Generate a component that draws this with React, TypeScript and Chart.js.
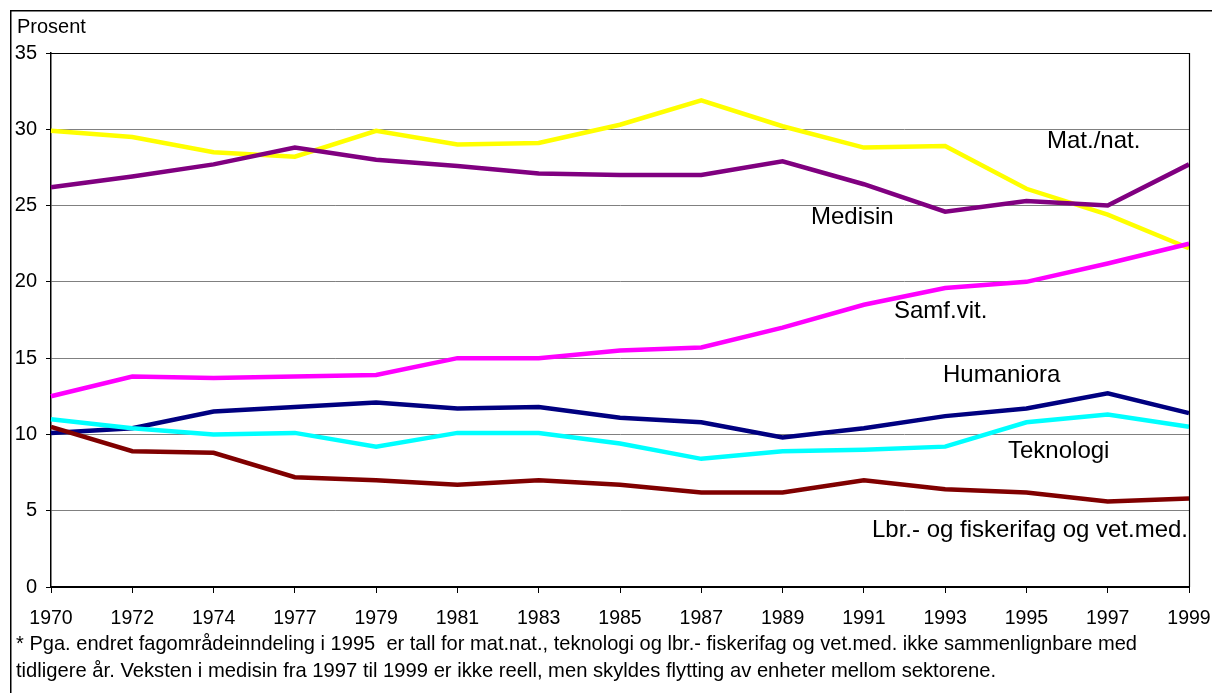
import React, { useEffect, useRef } from "react";
import { Chart, registerables } from "chart.js";

Chart.register(...registerables);

const years = ["1970", "1972", "1974", "1977", "1979", "1981", "1983", "1985", "1987", "1989", "1991", "1993", "1995", "1997", "1999"];
const matNat = [29.9, 29.5, 28.5, 28.2, 29.9, 29.0, 29.1, 30.3, 31.9, 30.2, 28.8, 28.9, 26.1, 24.4, 22.2];
const medisin = [26.2, 26.9, 27.7, 28.8, 28.0, 27.6, 27.1, 27.0, 27.0, 27.9, 26.4, 24.6, 25.3, 25.0, 27.7];
const samfVit = [12.5, 13.8, 13.7, 13.8, 13.9, 15.0, 15.0, 15.5, 15.7, 17.0, 18.5, 19.6, 20.0, 21.2, 22.5];
const humaniora = [10.1, 10.4, 11.5, 11.8, 12.1, 11.7, 11.8, 11.1, 10.8, 9.8, 10.4, 11.2, 11.7, 12.7, 11.4];
const teknologi = [11.0, 10.4, 10.0, 10.1, 9.2, 10.1, 10.1, 9.4, 8.4, 8.9, 9.0, 9.2, 10.8, 11.3, 10.5];
const lbr = [10.5, 8.9, 8.8, 7.2, 7.0, 6.7, 7.0, 6.7, 6.2, 6.2, 7.0, 6.4, 6.2, 5.6, 5.8];

const seriesNames = ["Mat./nat.", "Medisin", "Samf.vit.", "Humaniora", "Teknologi", "Lbr.- og fiskerifag og vet.med."];
const seriesColors = ["#FFFF00", "#800080", "#FF00FF", "#000080", "#00FFFF", "#800000"];
const seriesData = [matNat, medisin, samfVit, humaniora, teknologi, lbr];

const yAxisTitle = "Prosent";
const footnoteLines = [
  "* Pga. endret fagområdeinndeling i 1995  er tall for mat.nat., teknologi og lbr.- fiskerifag og vet.med. ikke sammenlignbare med",
  "tidligere år. Veksten i medisin fra 1997 til 1999 er ikke reell, men skyldes flytting av enheter mellom sektorene.",
];

const FONT = '"Liberation Sans", Arial, sans-serif';

// label anchor positions (left x, baseline y) for series names
const labelPos: [number, number][] = [
  [1047, 148],
  [811, 224],
  [894, 318],
  [943, 382],
  [1008, 458],
  [872, 537],
];

const decorPlugin = {
  id: "decor",
  afterDraw(chart: any) {
    const ctx = chart.ctx;
    const ca = chart.chartArea;
    ctx.save();
    // outer frame
    ctx.strokeStyle = "#000";
    ctx.lineWidth = 1.5;
    ctx.beginPath();
    ctx.moveTo(10.75, 693);
    ctx.lineTo(10.75, 10.75);
    ctx.lineTo(1212, 10.75);
    ctx.stroke();
    // plot top & right border
    ctx.lineWidth = 1.2;
    ctx.beginPath();
    ctx.moveTo(ca.left, ca.top + 0.5);
    ctx.lineTo(ca.right + 0.5, ca.top + 0.5);
    ctx.lineTo(ca.right + 0.5, ca.bottom);
    ctx.stroke();
    // axis title
    ctx.fillStyle = "#000";
    ctx.textAlign = "left";
    ctx.textBaseline = "alphabetic";
    ctx.font = `20px ${FONT}`;
    ctx.fillText(yAxisTitle, 17, 33);
    // series labels
    ctx.font = `24px ${FONT}`;
    seriesNames.forEach((n, i) => {
      if (i === 5) ctx.fillText(n, labelPos[i][0], labelPos[i][1], 316);
      else ctx.fillText(n, labelPos[i][0], labelPos[i][1]);
    });
    // footnote
    ctx.font = `20.3px ${FONT}`;
    ctx.fillText(footnoteLines[0], 16, 650, 1121);
    ctx.fillText(footnoteLines[1], 16, 677, 980);
    ctx.restore();
  },
};

export default function App() {
  const ref = useRef<HTMLCanvasElement>(null);
  useEffect(() => {
    if (!ref.current) return;
    const chart = new Chart(ref.current, {
      type: "line",
      data: {
        labels: years,
        datasets: seriesData.map((d, i) => ({
          label: seriesNames[i],
          data: d,
          borderColor: seriesColors[i],
          backgroundColor: seriesColors[i],
          borderWidth: 4.5,
          pointRadius: 0,
          tension: 0,
          fill: false,
          order: seriesData.length - i,
          borderJoinStyle: "miter" as const,
        })),
      },
      options: {
        animation: false,
        responsive: false,
        devicePixelRatio: 1,
        layout: { padding: { left: 0, top: 53, right: 23, bottom: 0 } },
        plugins: { legend: { display: false }, tooltip: { enabled: false } },
        scales: {
          x: {
            type: "category",
            offset: false,
            grid: { display: true, drawOnChartArea: false, drawTicks: true, tickLength: 6, color: "#000" },
            border: { display: true, color: "#000", width: 2 },
            ticks: { color: "#000", font: { family: FONT, size: 19.5 }, padding: 14, maxRotation: 0, autoSkip: false },
            afterFit: (s: any) => { s.height = 106; s.paddingLeft = 0; s.paddingRight = 0; },
          },
          y: {
            min: 0,
            max: 35,
            grid: { color: "#808080", tickColor: "#000", tickLength: 5, lineWidth: 1 },
            border: { display: true, color: "#000", width: 1.5 },
            ticks: { stepSize: 5, color: "#000", font: { family: FONT, size: 20 }, padding: 9 },
            afterFit: (s: any) => { s.width = 51; s.paddingTop = 0; s.paddingBottom = 0; },
          },
        },
      },
      plugins: [decorPlugin],
    });
    return () => chart.destroy();
  }, []);
  return (
    <div style={{ position: "absolute", left: 0, top: 0, width: 1212, height: 693, background: "#fff" }}>
      <canvas ref={ref} width={1212} height={693} style={{ width: 1212, height: 693, display: "block" }} />
    </div>
  );
}
